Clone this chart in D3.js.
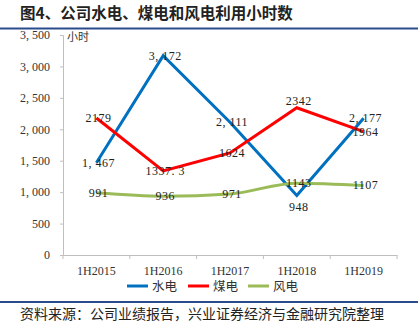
<!DOCTYPE html>
<html><head><meta charset="utf-8">
<script src="https://cdn.jsdelivr.net/npm/d3@7"></script>
<style>body{margin:0;background:#fff}svg{display:block}</style>
</head><body>
<svg id="c" width="418" height="323"></svg>
<script>
const categories = ["1H2015","1H2016","1H2017","1H2018","1H2019"];
const hydro = [1467, 3172, 2111, 948, 2177];
const coal = [2179, 1337.3, 1624, 2342, 1964];
const wind = [991, 936, 971, 1143, 1107];
const hydroLabels = ["1, 467","3, 172","2, 111","948","2, 177"];
const coalLabels = ["2179","1337. 3","1624","2342","1964"];
const windLabels = ["991","936","971","1143","1107"];
const yTicks = [0,500,1000,1500,2000,2500,3000,3500];
const seriesNames = ["水电","煤电","风电"];
const colors = ["#0070C0","#FF0000","#9BBB59"];

const svg = d3.select("#c");
const serif = "'Liberation Serif','DejaVu Serif',serif";
const cjk = "'Noto Sans CJK SC',sans-serif";

svg.append("text").attr("x",20).attr("y",19).attr("font-family",cjk).attr("font-weight","bold")
  .attr("font-size",15.5).attr("fill","#222").text("图4、公司水电、煤电和风电利用小时数");
svg.append("line").attr("x1",0).attr("x2",418).attr("y1",28.5).attr("y2",28.5).attr("stroke","#2B4C8C").attr("stroke-width",2);

const x = d3.scaleBand().domain(categories).range([63,397]);
const y = d3.scaleLinear().domain([0,3500]).range([255,35]);

const fmt = v => d3.format(",")(v).replace(",", ", ");
const ya = svg.append("g").attr("transform","translate(63,0)")
  .call(d3.axisLeft(y).tickValues(yTicks).tickSize(3).tickFormat(fmt));
ya.select(".domain").attr("stroke","#BFBFBF");
ya.selectAll(".tick line").attr("stroke","#BFBFBF");
ya.selectAll("text").attr("font-family",serif).attr("font-size",12).attr("fill","#333").attr("x",-13);

const xa = svg.append("g").attr("transform","translate(0,255)")
  .call(d3.axisBottom(x).tickSize(0).tickPadding(11));
xa.select(".domain").attr("stroke","#BFBFBF");
xa.selectAll("text").attr("font-family",serif).attr("font-size",12).attr("fill","#333");
const bounds = categories.map(c=>x(c)).concat([x.range()[1]]);
xa.selectAll(".bt").data(bounds).enter().append("line").attr("class","bt")
  .attr("x1",d=>d).attr("x2",d=>d).attr("y1",0).attr("y2",4).attr("stroke","#BFBFBF");

svg.append("text").attr("x",67).attr("y",41).attr("font-family",cjk).attr("font-size",11).attr("fill","#333").text("小时");

const cx = c => x(c) + x.bandwidth()/2;
const data = [hydro, coal, wind];
const labels = [hydroLabels, coalLabels, windLabels];
data.forEach((vals,i)=>{
  const line = d3.line().x((d,j)=>cx(categories[j])).y(d=>y(d))
    .curve(i===2 ? d3.curveMonotoneX : d3.curveLinear);
  svg.append("path").datum(vals).attr("d",line).attr("fill","none")
    .attr("stroke",colors[i]).attr("stroke-width",3);
});
const offsets = [[0,0,0,12,0],[0,0,0,-7,0],[0,0,0,0,0]];
data.forEach((vals,i)=>{
  svg.append("g").selectAll("text").data(vals).enter().append("text")
    .attr("x",(d,j)=>cx(categories[j])+2)
    .attr("y",(d,j)=>y(d)+offsets[i][j]+4)
    .attr("text-anchor","middle").attr("font-family",serif).attr("font-size",12)
    .attr("letter-spacing",0.5).attr("fill","#222")
    .text((d,j)=>labels[i][j]);
});

const legX = [127,188,248];
seriesNames.forEach((n,i)=>{
  svg.append("line").attr("x1",legX[i]).attr("x2",legX[i]+21).attr("y1",286).attr("y2",286)
    .attr("stroke",colors[i]).attr("stroke-width",3);
  svg.append("text").attr("x",legX[i]+25).attr("y",291).attr("font-family",cjk).attr("font-size",12.5)
    .attr("fill","#333").text(n);
});

svg.append("line").attr("x1",0).attr("x2",418).attr("y1",302).attr("y2",302).attr("stroke","#2B4C8C").attr("stroke-width",2);
svg.append("text").attr("x",20).attr("y",319).attr("font-family",cjk).attr("font-size",14)
  .attr("fill","#222").text("资料来源：公司业绩报告，兴业证券经济与金融研究院整理");
</script>
</body></html>
